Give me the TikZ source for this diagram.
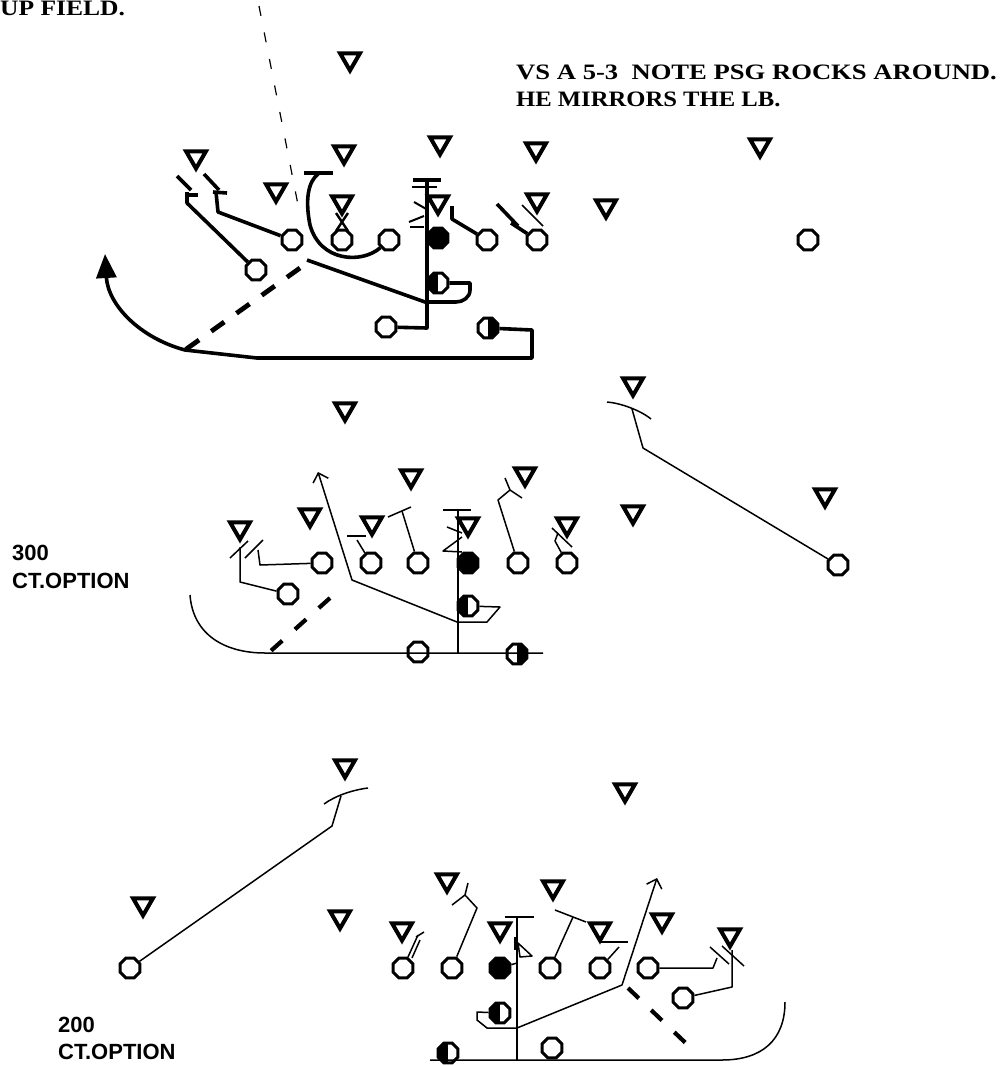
\documentclass[tikz,border=0pt]{standalone}
\usepackage{fontspec}
\usetikzlibrary{shapes.geometric,arrows.meta}
\newfontfamily\myserifface{Liberation Serif}
\newfontfamily\mysansface{Liberation Sans}
\newcommand\myserif{\myserifface\bfseries\fontsize{22}{22}\selectfont}
\newcommand\mysans{\mysansface\bfseries\fontsize{22}{22}\selectfont}
\tikzset{
  tri/.style={draw, line width=4pt, regular polygon, regular polygon sides=3, shape border rotate=180, minimum size=23pt, inner sep=0pt},
  off/.style={draw, line width=3pt, regular polygon, regular polygon sides=8, minimum size=21.5pt, inner sep=0pt},
  offfill/.style={off, fill=black},
  halfL/.style={off, path picture={\fill (path picture bounding box.south west) rectangle (path picture bounding box.north);}},
  halfR/.style={off, path picture={\fill (path picture bounding box.south) rectangle (path picture bounding box.north east);}},
  thk/.style={line width=3.6pt, line join=round},
  thn/.style={line width=1.5pt, line join=round},
  tdash/.style={line width=4.8pt, dash pattern=on 16pt off 15pt},
  mdash/.style={line width=4.2pt, dash pattern=on 15pt off 17pt},
  thindash/.style={line width=1.2pt, dash pattern=on 10pt off 17pt},
  lab/.style={anchor=base west, inner sep=0pt}
}
\begin{document}
\begin{tikzpicture}[x=1pt,y=-1pt]
\useasboundingbox[fill=white] (0,0) rectangle (1003,1066);

% ---------- texts
\node[lab] (up) at (0,15.5) {\myserif\scalebox{1.16}[1]{UP FIELD.}};
\node[lab] (vs1) at (516,79) {\myserif\scalebox{1.21}[1]{VS A 5-3\ \ NOTE PSG ROCKS AROUND.}};
\node[lab] (vs2) at (516,106) {\myserif\scalebox{1.12}[1]{HE MIRRORS THE LB.}};
\node[lab] (l300) at (12,560) {\mysans 300};
\node[lab] (l300b) at (12,588) {\mysans CT.OPTION};
\node[lab] (l200) at (58,1032) {\mysans 200};
\node[lab] (l200b) at (58,1059) {\mysans CT.OPTION};

% ================= TOP SECTION =================
\node[tri] (a1) at (350,59) {};
\node[tri] (a2) at (440,143) {};
\node[tri] (a3) at (536,149) {};
\node[tri] (a4) at (760,145) {};
\node[tri] (a5) at (196,157) {};
\node[tri] (a6) at (344,152) {};
\node[tri] (a7) at (276,190) {};
\node[tri] (a8) at (342,202) {};
\node[tri] (a9) at (438,202) {};
\node[tri] (a10) at (537,200) {};
\node[tri] (a11) at (606,206) {};

\node[off] (o1) at (292,240) {};
\node[off] (o2) at (342,240) {};
\node[off] (o3) at (389,240) {};
\node[offfill] (o4) at (438,238) {};
\node[off] (o5) at (487,240) {};
\node[off] (o6) at (537,240) {};
\node[off] (o7) at (808,240) {};
\node[off] (o8) at (256,270) {};
\node[halfL] (o9) at (438,283) {};
\node[off] (o10) at (386,327) {};
\node[halfR] (o11) at (488,328) {};

\coordinate (tdA) at (259,6);
\coordinate (tdB) at (300,215);
\draw[thindash] (tdA) -- (tdB);

\draw[thk] (o1) -- (218,212) -- (216,192);
\draw[thk] (204,174) -- (219,190);
\draw[thk] (213,192) -- (227,193);

\draw[thk] (o8) -- (187,203) -- (187,192);
\draw[thk] (177,176) -- (191,190);
\draw[thk] (186,195) -- (198,195);

\draw[thk] (o3) .. controls (362,264) and (320,262) .. (310,225) .. controls (305,200) and (308,182) .. (318,174);
\draw[thk] (304,173) -- (333,173);

\draw[line width=2.4pt] (336,213) -- (348,231) (348,213) -- (336,231);

\coordinate (f0) at (307,260);
\draw[thk] (f0) -- (425,302) -- (456,302) to[out=0,in=-90] (470,290) -- (470,283) -- (o9);

\draw[thk] (o10) -- (427,328) -- (427,180);
\draw[thk] (413,180) -- (441,180);
\draw[line width=2pt] (412,187) -- (437,187);
\draw[line width=2pt] (414,202) -- (428,210);
\draw[line width=2pt] (409,222) -- (424,216);
\draw[line width=2pt] (410,227) -- (424,227);

\draw[thk] (o5) -- (452,219) -- (452,206);
\draw[thk] (o6) -- (511,223);
\draw[thk] (497,204) -- (518,226);
\draw[thn] (522,205) -- (543,226);

\draw[thk, -{Triangle[length=24pt,width=20pt]}] (o11) -- (532,330) -- (532,358) -- (257,358) -- (185,350) .. controls (140,338) and (108,305) .. (105,254);
\coordinate (dA) at (300,268);
\coordinate (dB) at (185,350);
\draw[tdash] (dA) -- (dB);

% ================= MIDDLE SECTION =================
\node[tri] (m1) at (345,409) {};
\node[tri] (m2) at (633,384) {};
\node[tri] (m3) at (240,528) {};
\node[tri] (m4) at (310,515) {};
\node[tri] (m5) at (372,523) {};
\node[tri] (m6) at (411,476) {};
\node[tri] (m7) at (468,524) {};
\node[tri] (m8) at (525,474) {};
\node[tri] (m9) at (567,524) {};
\node[tri] (m10) at (633,512) {};
\node[tri] (m11) at (825,495) {};

\node[off] (p1) at (322,563) {};
\node[off] (p2) at (371,563) {};
\node[off] (p3) at (418,563) {};
\node[offfill] (p4) at (468,563) {};
\node[off] (p5) at (518,563) {};
\node[off] (p6) at (567,563) {};
\node[off] (p7) at (838,565) {};
\node[off] (p8) at (288,594) {};
\node[halfL] (p9) at (468,606) {};
\node[off] (p10) at (418,652) {};
\node[halfR] (p11) at (517,654) {};

\draw[thn] (p7) -- (643,448) -- (632,409);
\draw[thn] (607,402) .. controls (620,403) and (640,410) .. (651,419);
\draw[thn] (p1) -- (260,565) -- (258,550);
\draw[thn] (245,558) -- (263,540);
\draw[thn] (p8) -- (240,582) -- (240,547);
\draw[thn] (230,558) -- (248,541);
\draw[thn, -{Straight Barb[length=8pt,width=16pt]}] (p9) -- (500,607) -- (487,622) -- (457,622) -- (352,580) -- (318,472);
\draw[thn] (458,653) -- (458,510);
\draw[thn] (443,510) -- (471,510);
\draw[thn] (447,527) -- (462,533);
\draw[thn] (462,537) -- (443,551) -- (462,552);
\draw[thn] (190,595) .. controls (193,635) and (225,653) .. (265,653) -- (543,653);
\coordinate (mdA) at (330,598);
\coordinate (mdB) at (264,657);
\draw[mdash] (mdA) -- (mdB);
\draw[thn] (p2) -- (357,540);
\draw[thn] (347,536) -- (366,536);
\draw[thn] (p3) -- (402,511);
\draw[thn] (388,517) -- (411,507);
\draw[thn] (p5) -- (498,500) -- (510,490);
\draw[thn] (505,478) -- (510,490) -- (522,498);
\draw[thn] (p6) -- (555,541) -- (558,533);
\draw[thn] (552,528) -- (572,547);

% ================= BOTTOM SECTION =================
\node[tri] (n1) at (345,766) {};
\node[tri] (n2) at (625,790) {};
\node[tri] (n3) at (143,904) {};
\node[tri] (n4) at (340,917) {};
\node[tri] (n5) at (447,880) {};
\node[tri] (n6) at (553,887) {};
\node[tri] (n7) at (402,929) {};
\node[tri] (n8) at (500,929) {};
\node[tri] (n9) at (600,929) {};
\node[tri] (n10) at (662,920) {};
\node[tri] (n11) at (730,935) {};

\node[off] (q1) at (130,968) {};
\node[off] (q2) at (403,968) {};
\node[off] (q3) at (452,968) {};
\node[offfill] (q4) at (500,968) {};
\node[off] (q5) at (550,968) {};
\node[off] (q6) at (600,968) {};
\node[off] (q7) at (648,968) {};
\node[off] (q8) at (683,998) {};
\node[halfL] (q9) at (500,1013) {};
\node[off] (q10) at (552,1048) {};
\node[halfL] (q11) at (448,1053) {};

\draw[thn] (q1) -- (332,826) -- (341,796);
\draw[thn] (324,804) .. controls (335,796) and (352,790) .. (368,788);
\draw[thn] (517,1060) -- (517,917);
\draw[thn] (505,917) -- (534,917);
\draw[thn] (515,937) -- (515,950);
\draw[thn] (518,943) -- (532,956) -- (520,957) -- cycle;
\draw[thn] (q4) -- (517,963);
\draw[thn] (430,1060) -- (722,1060) .. controls (762,1060) and (785,1040) .. (785,1002);
\draw[thn, -{Straight Barb[length=8pt,width=16pt]}] (q9) -- (477,1012) -- (477,1020) -- (487,1028) -- (517,1028) -- (622,985) -- (657,878);
\coordinate (bdA) at (628,988);
\coordinate (bdB) at (693,1050);
\draw[mdash] (bdA) -- (bdB);
\draw[thn] (q7) -- (713,968) -- (717,958);
\draw[thn] (710,947) -- (729,964);
\draw[thn] (q8) -- (732,987) -- (732,950);
\draw[thn] (722,946) -- (744,966);
\draw[thn] (q6) -- (619,947);
\draw[thn] (600,942) -- (628,942);
\draw[thn] (q5) -- (573,917);
\draw[thn] (555,910) -- (586,922);
\draw[thn] (q3) -- (477,908) -- (465,895);
\draw[thn] (452,905) -- (465,895) -- (468,883);
\draw[thn] (q2) -- (418,935);
\draw[thn] (412,958) -- (420,940);
\draw[thn] (416,937) -- (424,932);
\end{tikzpicture}
\end{document}
